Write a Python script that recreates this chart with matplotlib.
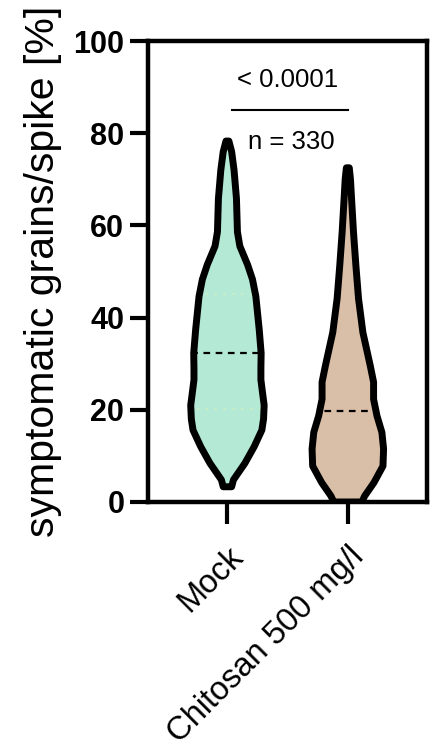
import matplotlib
matplotlib.use("Agg")
import matplotlib.pyplot as plt
from matplotlib.patches import Polygon
import numpy as np

plt.rcParams['font.family'] = ['Liberation Sans', 'DejaVu Sans']

# Données
groups = ['Mock', 'Chitosan 500 mg/l']
colors = ['#b4e9d6', '#d9bea8']

# profil du violon : niveaux (%) et demi-largeur (unités de catégorie)
mock_y = [3.3, 4.8, 8.4, 12.0, 15.6, 18.0, 21.0, 24.0, 26.5, 29.0, 32.3,
          37.4, 44.6, 48.3, 51.5, 55.5, 58.6, 65.8, 72.0, 76.0, 78.3]
mock_hw = [0.035, 0.05, 0.145, 0.222, 0.286, 0.30, 0.305, 0.29, 0.278,
           0.278, 0.28, 0.264, 0.236, 0.208, 0.167, 0.103, 0.083, 0.075,
           0.055, 0.035, 0.012]
chito_y = [0.0, 1.3, 4.2, 7.8, 11.5, 15.1, 18.7, 22.3, 26.0, 29.6, 36.8,
           44.1, 51.3, 58.6, 65.8, 70.0, 72.5]
chito_hw = [0.117, 0.14, 0.217, 0.292, 0.297, 0.283, 0.242, 0.214,
            0.214, 0.186, 0.125, 0.089, 0.067, 0.047, 0.031, 0.022, 0.012]

medians = [32.3, 19.8]
mock_quartiles = [20.1, 45.1]

p_text = '< 0.0001'
n_text = 'n = 330'

fig = plt.figure(figsize=(4.36, 7.5), dpi=100)
ax = fig.add_axes([0.3394, 0.3307, 0.6406, 0.6146])

profils = [(mock_y, mock_hw), (chito_y, chito_hw)]
for i, (ys, hws) in enumerate(profils):
    ys = np.array(ys)
    hws = np.array(hws)
    verts = np.concatenate([np.column_stack([i - hws, ys]),
                            np.column_stack([i + hws[::-1], ys[::-1]])])
    fond = Polygon(verts, closed=True, facecolor=colors[i], edgecolor='none', zorder=2)
    ax.add_patch(fond)
    # médiane en tirets
    med, = ax.plot([i - 0.4, i + 0.4], [medians[i], medians[i]], color='black',
                   lw=1.6, ls=(0, (3, 2.5)), zorder=3)
    med.set_clip_path(fond)
    if i == 0:
        for q in mock_quartiles:
            ql, = ax.plot([i - 0.4, i + 0.4], [q, q], color='#c8eec4',
                          lw=1.6, ls=(0, (1, 3)), zorder=3)
            ql.set_clip_path(fond)
    contour = Polygon(verts, closed=True, facecolor='none', edgecolor='black',
                      lw=5, joinstyle='round', zorder=4)
    ax.add_patch(contour)

# barre de significativité
ax.plot([0.04, 1.0], [85.1, 85.1], color='black', lw=1.5, clip_on=False)
ax.text(0.5, 91.6, p_text, ha='center', va='center', fontsize=18.5)
ax.text(0.53, 78.1, n_text, ha='center', va='center', fontsize=18.5)

ax.set_xlim(-0.66, 1.66)
ax.set_ylim(0, 100)
ax.set_yticks([0, 20, 40, 60, 80, 100])
ax.set_xticks([0, 1])
ax.set_xticklabels(groups, rotation=45, ha='right', va='top',
                   rotation_mode='anchor', fontsize=23.5)
for lab in ax.get_yticklabels():
    lab.set_fontweight('bold')
    lab.set_fontsize(22)
ax.tick_params(axis='y', length=13, width=3, pad=4)
ax.tick_params(axis='x', length=16, width=3, pad=12)
for s in ax.spines.values():
    s.set_linewidth(3.2)
ax.set_ylabel('symptomatic grains/spike [%]', fontsize=29.5, labelpad=8)

fig.savefig('out.png', dpi=100)
